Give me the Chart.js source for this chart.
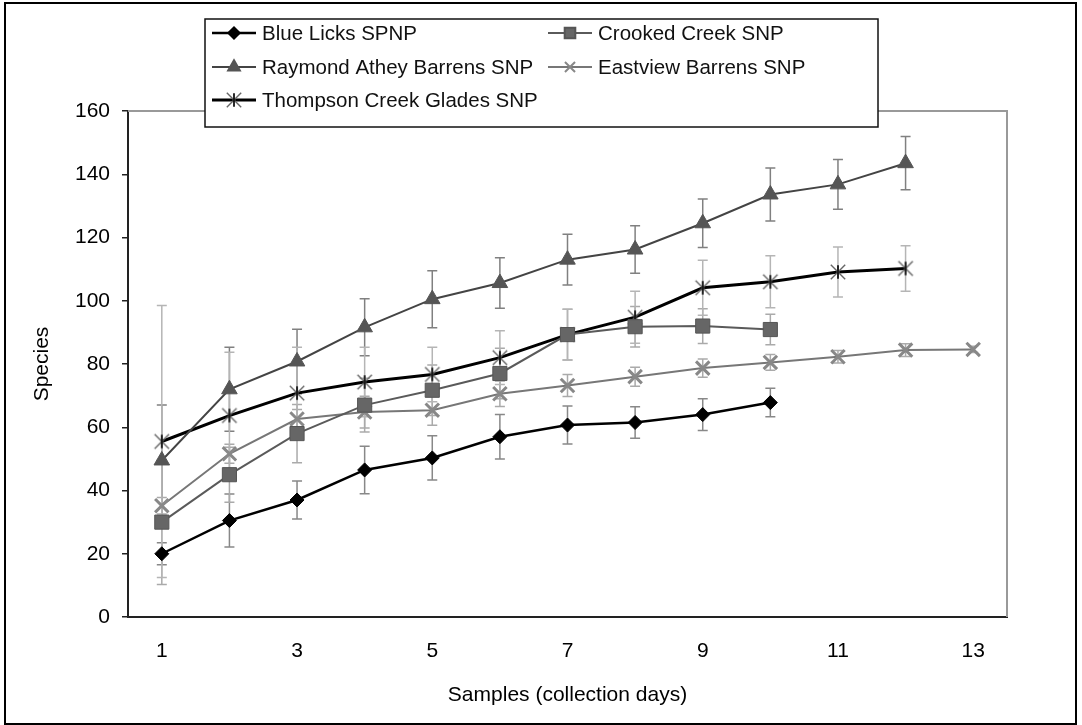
<!DOCTYPE html>
<html><head><meta charset="utf-8">
<script src="https://cdn.jsdelivr.net/npm/chart.js@4.4.1/dist/chart.umd.min.js"></script>
<style>html,body{margin:0;padding:0;background:#fff;overflow:hidden;} canvas{display:block;}</style>
</head><body>
<canvas id="c" width="1082" height="725"></canvas>
<script>
// ---- data ----
const categories = ['1','2','3','4','5','6','7','8','9','10','11','12','13'];
const seriesNames = ['Blue Licks SPNP','Crooked Creek SNP','Raymond Athey Barrens SNP','Eastview Barrens SNP','Thompson Creek Glades SNP'];
const blueLicks        = [20, 30.5, 37, 46.5, 50.3, 57, 60.7, 61.5, 64, 67.8, null, null, null];
const blueLicksErr     = [3.5, 8.4, 6, 7.5, 7, 7, 6, 5, 5, 4.5, null, null, null];
const crookedCreek     = [30, 45, 58, 67, 71.7, 77, 89.3, 91.8, 92, 90.9, null, null, null];
const crookedCreekErr  = [19.7, 8.7, 9.2, 8.5, 8, 8, 8, 6.4, 5.5, 4.8, null, null, null];
const raymondAthey     = [49.5, 72, 80.8, 91.6, 100.5, 105.6, 113, 116.2, 124.5, 133.6, 136.8, 143.5, null];
const raymondAtheyErr  = [17.5, 13.3, 10.2, 9, 9, 8, 8, 7.5, 7.7, 8.4, 7.9, 8.4, null];
const eastview         = [35.2, 51.6, 62.6, 64.8, 65.4, 70.6, 73.2, 76, 78.7, 80.5, 82.3, 84.4, 84.6];
const eastviewErr      = [2.6, 3, 3, 5, 4.8, 4, 3.5, 3, 2.9, 2.5, 2, 2, 1];
const thompsonCreek    = [55.5, 63.7, 70.8, 74.3, 76.7, 82, 89.3, 94.8, 104.1, 106, 109.1, 110.2, null];
const thompsonCreekErr = [43, 20, 14.5, 11, 8.6, 8.5, 8, 8.2, 8.7, 8.2, 7.9, 7.2, null];
const yTickMin = 0, yTickMax = 160, yTickStep = 20;

const FONT = '"Liberation Sans", Arial, Helvetica, sans-serif';

function makeStar(size) {
  const c = document.createElement('canvas');
  c.width = c.height = size;
  const g = c.getContext('2d');
  const m = size / 2, r = size / 2 - 1, d = r * 0.8;
  g.lineWidth = 1.4; g.strokeStyle = '#666';
  g.beginPath();
  g.moveTo(m - d, m - d); g.lineTo(m + d, m + d);
  g.moveTo(m + d, m - d); g.lineTo(m - d, m + d);
  g.stroke();
  g.lineWidth = 1.8; g.strokeStyle = '#111';
  g.beginPath(); g.moveTo(m, m - r * 0.75); g.lineTo(m, m + r * 0.75); g.stroke();
  return c;
}
const starImg = makeStar(20);

const datasets = [
  {label: seriesNames[0], data: blueLicks, errorBars: blueLicksErr, errColor: '#888',
   borderColor: '#000', backgroundColor: '#000', borderWidth: 2.5,
   pointStyle: 'rectRot', pointRadius: 7, pointBackgroundColor: '#000', pointBorderColor: '#000', pointBorderWidth: 1},
  {label: seriesNames[1], data: crookedCreek, errorBars: crookedCreekErr, errColor: '#aaa',
   borderColor: '#5a5a5a', backgroundColor: '#666', borderWidth: 2,
   pointStyle: 'rect', pointRadius: 10, pointBackgroundColor: '#666', pointBorderColor: '#555', pointBorderWidth: 1},
  {label: seriesNames[2], data: raymondAthey, errorBars: raymondAtheyErr, errColor: '#808080',
   borderColor: '#444', backgroundColor: '#555', borderWidth: 2,
   pointStyle: 'triangle', pointRadius: 9, pointBackgroundColor: '#555', pointBorderColor: '#555', pointBorderWidth: 1},
  {label: seriesNames[3], data: eastview, errorBars: eastviewErr, errColor: '#aaa',
   borderColor: '#777', backgroundColor: '#888', borderWidth: 2,
   pointStyle: 'crossRot', pointRadius: 9.5, pointBackgroundColor: '#888', pointBorderColor: '#888', pointBorderWidth: 3},
  {label: seriesNames[4], data: thompsonCreek, errorBars: thompsonCreekErr, errColor: '#b5b5b5',
   borderColor: '#000', backgroundColor: '#000', borderWidth: 3,
   pointStyle: starImg, pointRadius: 10, pointBackgroundColor: '#000', pointBorderColor: '#000', pointBorderWidth: 1.5}
];
datasets.forEach(d => { d.tension = 0; d.fill = false; d.spanGaps = false; });

const chartFrame = {
  id: 'chartFrame',
  beforeDraw(chart) {
    const {ctx, width, height} = chart;
    ctx.save(); ctx.fillStyle = '#fff'; ctx.fillRect(0, 0, width, height); ctx.restore();
  },
  beforeDatasetsDraw(chart) {
    const {ctx, chartArea: a} = chart;
    ctx.save();
    ctx.strokeStyle = '#999'; ctx.lineWidth = 2;
    ctx.beginPath(); ctx.moveTo(a.left, a.top); ctx.lineTo(a.right, a.top); ctx.lineTo(a.right, a.bottom); ctx.stroke();
    // error bars
    const ys = chart.scales.y;
    chart.data.datasets.forEach((ds, i) => {
      const meta = chart.getDatasetMeta(i);
      ctx.strokeStyle = ds.errColor; ctx.lineWidth = 1.5;
      ds.data.forEach((v, j) => {
        const e = ds.errorBars[j];
        if (v == null || e == null) return;
        const x = meta.data[j].x;
        const y1 = ys.getPixelForValue(v + e), y2 = ys.getPixelForValue(v - e);
        ctx.beginPath();
        ctx.moveTo(x, y1); ctx.lineTo(x, y2);
        ctx.moveTo(x - 5, y1); ctx.lineTo(x + 5, y1);
        ctx.moveTo(x - 5, y2); ctx.lineTo(x + 5, y2);
        ctx.stroke();
      });
    });
    ctx.restore();
  },
  afterDraw(chart) {
    const {ctx} = chart;
    ctx.save();
    // legend box
    const L = {x: 205, y: 19, w: 673, h: 108};
    ctx.fillStyle = '#fff'; ctx.fillRect(L.x, L.y, L.w, L.h);
    ctx.strokeStyle = '#111'; ctx.lineWidth = 1.5; ctx.strokeRect(L.x, L.y, L.w, L.h);
    const cols = [212, 548], rows = [33, 67, 100];
    chart.data.datasets.forEach((ds, i) => {
      const cx = cols[i % 2], cy = rows[Math.floor(i / 2)];
      ctx.strokeStyle = ds.borderColor; ctx.lineWidth = ds.borderWidth;
      ctx.beginPath(); ctx.moveTo(cx, cy); ctx.lineTo(cx + 44, cy); ctx.stroke();
      ctx.fillStyle = ds.pointBackgroundColor; ctx.strokeStyle = ds.pointBorderColor;
      Chart.helpers.drawPoint(ctx, {pointStyle: ds.pointStyle, radius: ds.pointRadius * 0.75, rotation: 0, borderWidth: ds.pointBorderWidth}, cx + 22, cy);
      ctx.fillStyle = '#111'; ctx.font = '20.5px ' + FONT; ctx.textBaseline = 'middle'; ctx.textAlign = 'left';
      ctx.fillText(ds.label, cx + 50, cy + 1);
    });
    // outer border
    ctx.strokeStyle = '#000'; ctx.lineWidth = 2;
    ctx.strokeRect(5, 3, 1071, 721);
    ctx.restore();
  }
};

new Chart(document.getElementById('c'), {
  type: 'line',
  data: {labels: categories, datasets: datasets},
  options: {
    responsive: false, animation: false, devicePixelRatio: 1,
    layout: {padding: {top: 111, right: 75, bottom: 0, left: 0}},
    plugins: {legend: {display: false}, tooltip: {enabled: false}},
    scales: {
      x: {
        type: 'category', offset: true,
        grid: {display: false, drawTicks: false},
        border: {display: true, color: '#222', width: 2},
        ticks: {color: '#000', font: {family: FONT, size: 21}, padding: 22, autoSkip: false, maxRotation: 0,
                callback: function(v, i) { return i % 2 === 0 ? this.getLabelForValue(v) : ''; }},
        title: {display: true, text: 'Samples (collection days)', color: '#000', font: {family: FONT, size: 21}, padding: {top: 0, bottom: 17}},
        afterFit(s) { s.height = 108; }
      },
      y: {
        min: yTickMin, max: yTickMax,
        grid: {display: true, drawOnChartArea: false, drawTicks: true, tickLength: 6, color: '#222', lineWidth: 1.5},
        border: {display: true, color: '#222', width: 2},
        ticks: {stepSize: yTickStep, color: '#000', font: {family: FONT, size: 21}, padding: 12},
        title: {display: true, text: 'Species', color: '#000', font: {family: FONT, size: 21}, padding: {top: 30, bottom: 0}},
        afterFit(s) { s.width = 128; }
      }
    }
  },
  plugins: [chartFrame]
});
</script>
</body></html>
